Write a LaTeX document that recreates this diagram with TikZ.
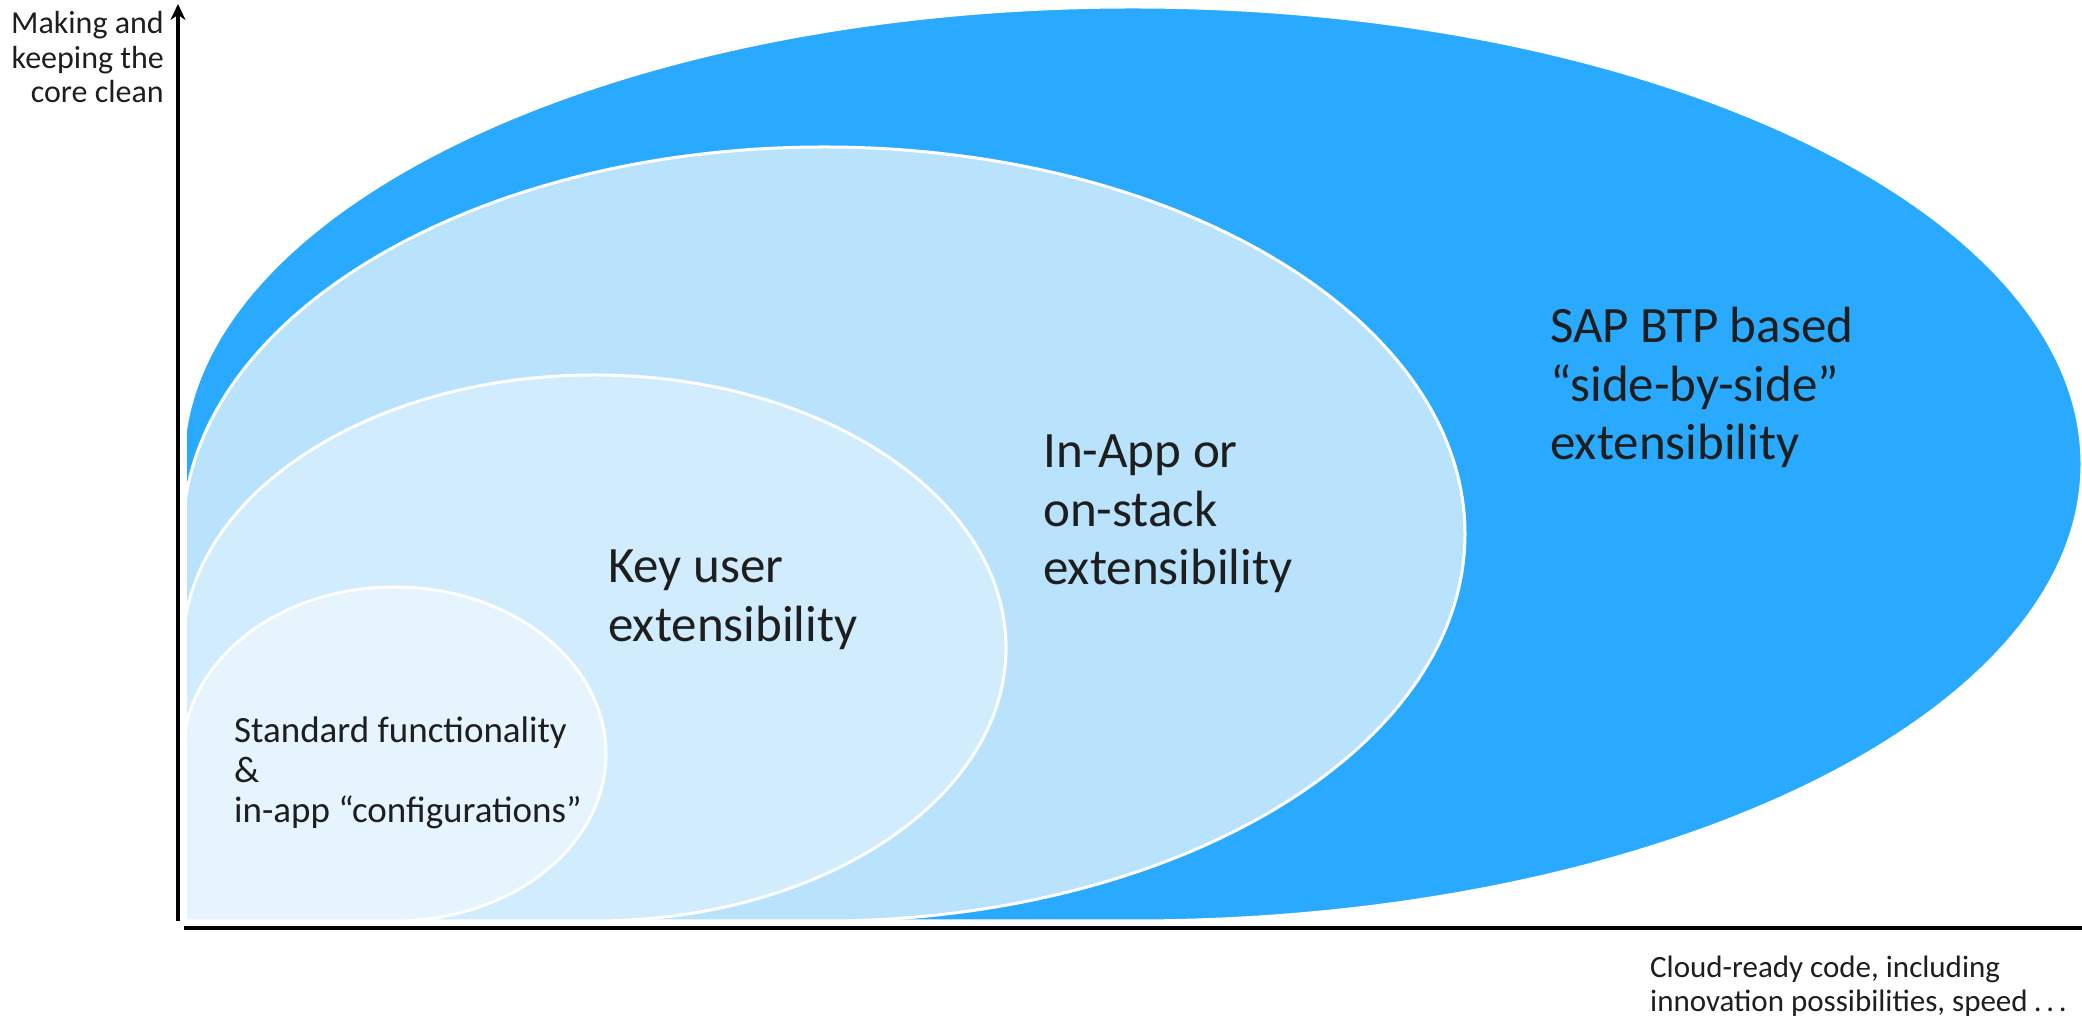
\documentclass[tikz,border=0pt]{standalone}
\usepackage{fontspec}
\setmainfont{Carlito}
\usetikzlibrary{arrows.meta}
\definecolor{outerblue}{RGB}{41,170,255}
\definecolor{inappblue}{RGB}{185,226,253}
\definecolor{keyblue}{RGB}{209,236,253}
\definecolor{stdblue}{RGB}{230,244,254}
\definecolor{txt}{RGB}{30,30,30}
\tikzset{
  zone/.style={draw=white, line width=3pt},
  axisline/.style={draw=black, line width=3.5pt},
  bigtxt/.style={inner sep=0pt, anchor=base west, align=left, text=txt, font=\fontsize{51}{58.5}\selectfont},
  midtxt/.style={inner sep=0pt, anchor=base west, align=left, text=txt, font=\fontsize{37}{40}\selectfont},
  axtxt/.style={inner sep=0pt, align=left, text=txt, font=\fontsize{32}{34.5}\selectfont},
}
\begin{document}
\begin{tikzpicture}[x=1pt,y=1pt]
\useasboundingbox (0,0) rectangle (2082,1019);
\begin{scope}
  \clip (187,98) rectangle (2082,1019);
  % outer: SAP BTP
  \path[zone, fill=outerblue] (183,98) -- (183,555) arc[start angle=180, end angle=-90, x radius=949.5, y radius=457] -- cycle;
  % In-App
  \path[zone, fill=inappblue] (183,98) -- (183,485) arc[start angle=180, end angle=-90, x radius=641, y radius=387] -- cycle;
  % Key user
  \path[zone, fill=keyblue] (183,98) -- (183,371) arc[start angle=180, end angle=-90, x radius=411.5, y radius=273] -- cycle;
  % Standard
  \path[zone, fill=stdblue] (183,98) -- (183,265) arc[start angle=180, end angle=-90, x radius=211.5, y radius=167] -- cycle;
\end{scope}
% axes
\coordinate (ybot) at (178,98);
\coordinate (ytop) at (178,1015);
\coordinate (xl) at (184,91);
\coordinate (xr) at (2082,91);
\draw[axisline, -{Stealth[length=16pt, width=15pt]}] (ybot) -- (ytop);
\draw[axisline] (xl) -- (xr);
% labels (base anchor = baseline of last line)
\node[axtxt, anchor=base east, align=right] (ylab) at (164,916) {Making and\\keeping the\\core clean};
\node[axtxt, anchor=base west, font=\fontsize{31}{34.5}\selectfont] (xlab) at (1650,7) {Cloud-ready code, including\\innovation possibilities, speed\hspace{0.2em}.\hspace{0.15em}.\hspace{0.15em}.};
\node[bigtxt] (sap) at (1550,559) {SAP BTP based\\“side-by-side”\\extensibility};
\node[bigtxt] (inapp) at (1043,434) {In-App or\\on-stack\\extensibility};
\node[bigtxt] (key) at (608,377.5) {Key user\\extensibility};
\node[midtxt] (std) at (234,196) {Standard functionality\\\&\\in-app “configurations”};
\end{tikzpicture}
\end{document}
